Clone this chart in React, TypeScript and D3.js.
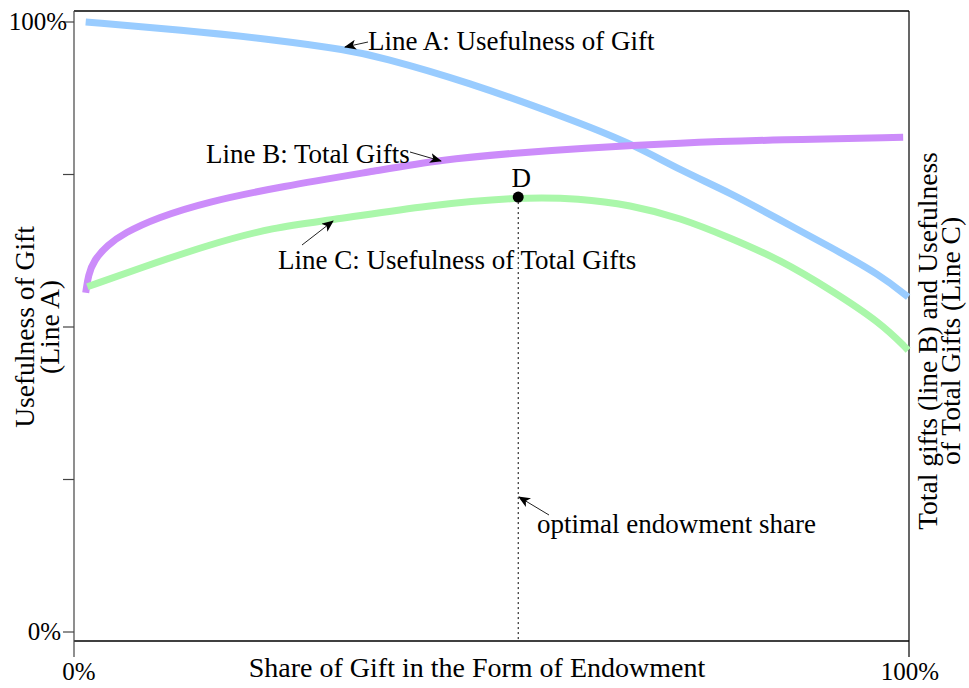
import * as d3 from "d3";

// share of gift in endowment (%)
const lineA_x = [1.4, 12.7, 24.7, 32.7, 36.6, 47.1, 59.0, 66.6, 72.6, 78.6, 84.6, 90.6, 96.6, 99.9];
const lineA_y = [100, 98.7, 97.0, 95.4, 94.3, 90.2, 84.3, 80.2, 75.7, 72.0, 67.5, 63.1, 58.5, 54.9];

const lineB_x = [1.4, 1.7, 2.4, 4.0, 6.0, 9.9, 15.9, 24.7, 36.6, 43.8, 52.6, 60.6, 72.6, 84.6, 99.3];
const lineB_y = [55.6, 58.5, 61.0, 63.4, 65.4, 67.9, 70.5, 73.0, 75.7, 77.4, 78.5, 79.3, 80.2, 80.7, 81.1];

const lineC_x = [1.6, 8.0, 15.9, 24.0, 30.7, 42.6, 53.2, 60.6, 66.6, 72.6, 78.6, 84.6, 90.6, 96.6, 99.9];
const lineC_y = [56.6, 59.7, 63.4, 66.4, 67.5, 70.0, 71.3, 71.1, 70.0, 67.9, 64.6, 61.0, 56.1, 50.7, 46.2];

const optimalShare = 53.2;
const optimalValue = 71.3;

const yTicks = [0, 25, 50, 75, 100];
const yTickLabels = ["0%", "", "", "", "100%"];
const xTicks = [0, 100];
const xTickLabels = ["0%", "100%"];

const W = 969;
const H = 688;
const font = "'Liberation Serif', 'Times New Roman', serif";

export default function App() {
  const x = d3.scaleLinear().domain([0, 100]).range([74, 909]);
  const y = d3.scaleLinear().domain([0, 100]).range([632, 22]);
  const top = 11;
  const bottom = 641;

  const line = d3
    .line<[number, number]>()
    .x((d) => x(d[0]))
    .y((d) => y(d[1]))
    .curve(d3.curveBasis);

  const series = [
    { xs: lineA_x, ys: lineA_y, color: "#99ccff" },
    { xs: lineB_x, ys: lineB_y, color: "#cc8cfa" },
    { xs: lineC_x, ys: lineC_y, color: "#aaf7aa" },
  ];

  // annotation arrows: [x1, y1, x2 (tip), y2 (tip)]
  const arrows = [
    [368, 42, 345, 47],
    [410, 152, 441, 161],
    [302, 245, 333, 221],
    [549, 515, 519, 497],
  ];

  return (
    <svg
      width={W}
      height={H}
      style={{ position: "absolute", left: 0, top: 0, background: "#fff" }}
      fontFamily={font}
      fontSize={27}
    >
      <defs>
        <marker
          id="arrow"
          viewBox="0 0 12 10"
          refX="11"
          refY="5"
          markerWidth="12"
          markerHeight="10"
          markerUnits="userSpaceOnUse"
          orient="auto"
        >
          <path d="M0,0 L12,5 L0,10 L3,5 Z" fill="#000" />
        </marker>
      </defs>

      {/* frame */}
      <line x1={x(0)} x2={x(100)} y1={top} y2={top} stroke="#000" strokeWidth={1.5} />
      <line x1={x(100)} x2={x(100)} y1={top} y2={bottom + 16} stroke="#000" strokeWidth={1.2} />
      <line x1={x(0)} x2={x(100)} y1={bottom} y2={bottom} stroke="#000" strokeWidth={1.5} />
      <line x1={x(0)} x2={x(0)} y1={top} y2={bottom + 16} stroke="#444" strokeWidth={1.2} />

      {/* y ticks */}
      {yTicks.map((t, i) => (
        <g key={"yt" + i}>
          <line x1={x(0) - 11} x2={x(0)} y1={y(t)} y2={y(t)} stroke="#444" strokeWidth={1.2} />
          {yTickLabels[i] && (
            <text x={i === 4 ? 67 : 61} y={y(t)} dy="0.33em" textAnchor="end" fontSize={25}>
              {yTickLabels[i]}
            </text>
          )}
        </g>
      ))}

      {/* x tick labels */}
      {xTicks.map((t, i) => (
        <text key={"xt" + i} x={x(t) + (i === 0 ? 5 : 1)} y={680} textAnchor="middle" fontSize={25}>
          {xTickLabels[i]}
        </text>
      ))}

      {/* curves */}
      {series.map((s, i) => (
        <path
          key={"s" + i}
          d={line(s.xs.map((v, j) => [v, s.ys[j]] as [number, number])) || ""}
          fill="none"
          stroke={s.color}
          strokeWidth={7}
          strokeLinecap="butt"
        />
      ))}

      {/* optimal share */}
      <line
        x1={x(optimalShare)}
        x2={x(optimalShare)}
        y1={y(optimalValue)}
        y2={bottom}
        stroke="#000"
        strokeWidth={1}
        strokeDasharray="2,3"
      />
      <circle cx={x(optimalShare)} cy={y(optimalValue)} r={5.5} fill="#000" />
      <text x={x(optimalShare) + 3} y={187} textAnchor="middle">D</text>

      {/* annotations */}
      {arrows.map((a, i) => (
        <line
          key={"a" + i}
          x1={a[0]}
          y1={a[1]}
          x2={a[2]}
          y2={a[3]}
          stroke="#222"
          strokeWidth={1}
          markerEnd="url(#arrow)"
        />
      ))}
      <text x={368} y={50}>Line A: Usefulness of Gift</text>
      <text x={206} y={163}>Line B: Total Gifts</text>
      <text x={278} y={269}>Line C: Usefulness of Total Gifts</text>
      <text x={537} y={533}>optimal endowment share</text>

      {/* axis titles */}
      <text x={477} y={677} textAnchor="middle" fontSize={28}>
        Share of Gift in the Form of Endowment
      </text>
      <g transform="translate(34,327) rotate(-90)" fontSize={27.5}>
        <text x={0} y={0} textAnchor="middle">Usefulness of Gift</text>
        <text x={0} y={25} textAnchor="middle">(Line A)</text>
      </g>
      <g transform="translate(937,341) rotate(-90)" fontSize={27.5}>
        <text x={0} y={0} textAnchor="middle">Total gifts (line B) and Usefulness</text>
        <text x={0} y={23} textAnchor="middle">of Total Gifts (Line C)</text>
      </g>
    </svg>
  );
}
